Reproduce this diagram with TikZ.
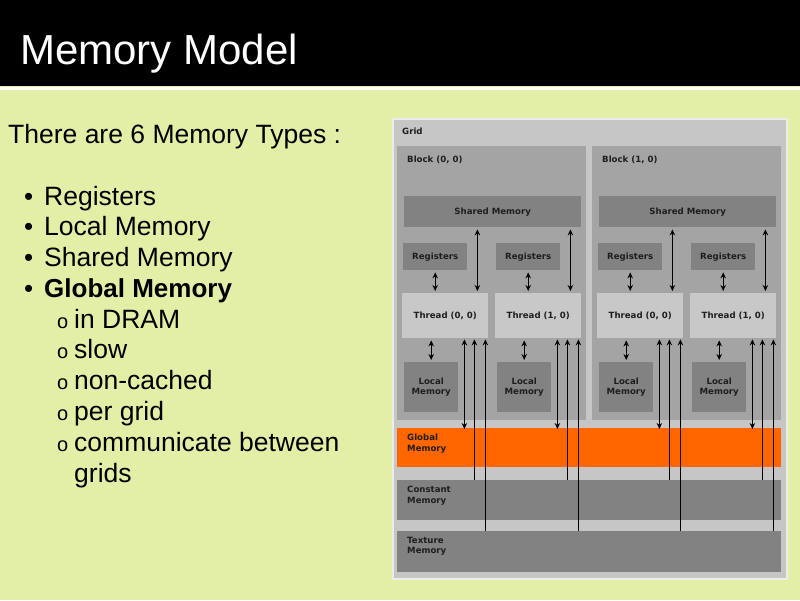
\documentclass[tikz,border=0pt]{standalone}
\usepackage{fontspec}
\setmainfont{Liberation Sans}
\newfontfamily\dfont{DejaVu Sans}
\usetikzlibrary{arrows.meta}
\definecolor{bg}{HTML}{E3EFA6}
\definecolor{gpanel}{HTML}{C6C6C6}
\definecolor{blk}{HTML}{A4A4A4}
\definecolor{dk}{HTML}{828282}
\definecolor{lt}{HTML}{C8C8C8}
\definecolor{org}{HTML}{FF6600}
\definecolor{txt}{HTML}{1E1E1E}
\tikzset{
  box/.style={anchor=north west,inner sep=0pt,draw=none,font=\dfont\bfseries\fontsize{8.6}{10}\selectfont,text=txt,align=center},
  lab/.style={anchor=north west,inner sep=0pt,font=\dfont\bfseries\fontsize{8.6}{10.5}\selectfont,text=txt,align=left},
  ar/.style={line width=1.2pt,{Stealth[length=6pt,width=5.5pt]}-{Stealth[length=6pt,width=5.5pt]}},
  au/.style={line width=1.2pt,{Stealth[length=6pt,width=5.5pt]}-},
  body/.style={anchor=base west,inner sep=0pt,font=\fontsize{26.5}{30}\selectfont},
}
\begin{document}
\begin{tikzpicture}[x=1pt,y=-1pt]
\useasboundingbox (0,0) rectangle (800,600);
\fill[bg] (0,0) rectangle (800,600);
\fill[black] (0,0) rectangle (800,86);
\fill[white] (0,87) rectangle (800,90);
\node[anchor=base west,inner sep=0pt,text=white,font=\fontsize{42}{46}\selectfont] (title) at (20,64) {Memory Model};
% body text
\node[body] (intro) at (8,143) {There are 6 Memory Types :};
\foreach \t/\y/\n in {Registers/205/b1,Local Memory/235/b2,Shared Memory/266/b3}{
  \node[body] (\n) at (44,\y) {\t};
  \node[anchor=base west,inner sep=0pt,font=\fontsize{26}{30}\selectfont] (\n d) at (24,\y) {•};
}
\node[body,font=\bfseries\fontsize{26}{30}\selectfont] (b4) at (44,297) {Global Memory};
\node[anchor=base west,inner sep=0pt,font=\fontsize{26}{30}\selectfont] (b4d) at (24,297) {•};
\foreach \t/\y/\n in {in DRAM/328/s1,slow/358/s2,non-cached/389/s3,per grid/420/s4,communicate between/451/s5}{
  \node[body] (\n) at (74,\y) {\t};
  \node[anchor=base west,inner sep=0pt,font=\fontsize{20}{24}\selectfont] (\n o) at (57,\y) {o};
}
\node[body] (s6) at (74,482) {grids};
% grid
\node[box,fill=gpanel,draw=white!85!gray,line width=1.5pt,minimum width=394pt,minimum height=460pt] (grid) at (392,118) {};
\node[lab] (gridl) at (402,128) {Grid};
\foreach \bx/\bn/\bl in {397/A/{(0, 0)},592/B/{(1, 0)}}{
  \node[box,fill=blk,minimum width=189pt,minimum height=274pt] (blk\bn) at (\bx,146) {};
  \node[lab] (blkl\bn) at (\bx+10,156) {Block \bl};
  \node[box,fill=dk,minimum width=177pt,minimum height=31pt] (sh\bn) at (\bx+7,196) {Shared Memory};
  \foreach \o/\k in {0/1,93/2}{
    \node[box,fill=dk,minimum width=64pt,minimum height=27pt] (rg\bn\k) at (\bx+6+\o,243) {Registers};
    \node[box,fill=lt,minimum width=86pt,minimum height=45pt] (th\bn\k) at (\bx+5+\o,293) {Thread \ifnum\k=1 (0, 0)\else (1, 0)\fi};
    \node[box,fill=dk,minimum width=54pt,minimum height=50pt] (lm\bn\k) at (\bx+7+\o,362) {Local\\Memory};
  }
}
\node[box,fill=org,minimum width=384pt,minimum height=39pt] (gm) at (397,428) {};
\node[lab] (gml) at (407,434) {Global\\Memory};
\node[box,fill=dk,minimum width=384pt,minimum height=40pt] (cm) at (397,480) {};
\node[lab] (cml) at (407,486) {Constant\\Memory};
\node[box,fill=dk,minimum width=384pt,minimum height=41pt] (tm) at (397,531) {};
\node[lab] (tml) at (407,537) {Texture\\Memory};
% arrows
\foreach \b in {A,B}{
  \foreach \k in {1,2}{
    \coordinate (pr\b\k) at ([yshift=-2pt]rg\b\k.south);
    \coordinate (pl\b\k) at ([yshift=2pt]lm\b\k.north);
    \coordinate (ps\b\k) at ([xshift=-11pt,yshift=2pt]th\b\k.north east);
    \coordinate (pg\b\k) at ([xshift=-24pt,yshift=-1pt]th\b\k.south east);
    \coordinate (pc\b\k) at ([xshift=-14pt,yshift=-1pt]th\b\k.south east);
    \coordinate (pt\b\k) at ([xshift=-3pt,yshift=-1pt]th\b\k.south east);
    \draw[ar] (pr\b\k) -- ([yshift=2pt]th\b\k.north -| pr\b\k);
    \draw[ar] ([yshift=-2pt]th\b\k.south -| pl\b\k) -- (pl\b\k);
    \draw[ar] ([yshift=-2pt]sh\b.south -| ps\b\k) -- (ps\b\k);
    \draw[ar] (pg\b\k) -- ([yshift=-1pt]gm.north -| pg\b\k);
    \draw[au] (pc\b\k) -- (cm.north -| pc\b\k);
    \draw[au] (pt\b\k) -- (tm.north -| pt\b\k);
  }
}
\end{tikzpicture}
\end{document}
